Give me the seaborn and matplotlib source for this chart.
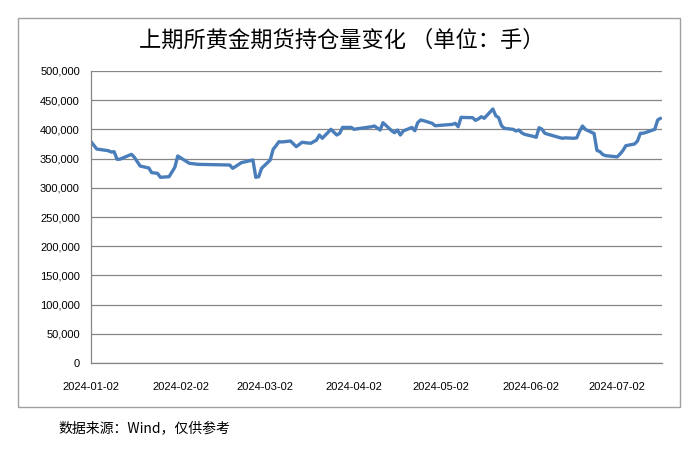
import pandas as pd
import numpy as np
import matplotlib
matplotlib.use("Agg")
import matplotlib.pyplot as plt
import matplotlib.dates as mdates
from matplotlib.patches import Rectangle
from matplotlib.ticker import FuncFormatter, MultipleLocator
import seaborn as sns

# Data (trading days, lots)
dates = [
    "2024-01-02", "2024-01-04", "2024-01-08", "2024-01-09", "2024-01-10", "2024-01-11",
    "2024-01-12", "2024-01-16", "2024-01-17", "2024-01-19", "2024-01-22", "2024-01-23",
    "2024-01-25", "2024-01-26", "2024-01-29", "2024-01-31", "2024-02-01", "2024-02-05",
    "2024-02-08", "2024-02-19", "2024-02-20", "2024-02-23", "2024-02-26", "2024-02-27",
    "2024-02-28", "2024-02-29", "2024-03-01", "2024-03-04", "2024-03-05", "2024-03-06",
    "2024-03-07", "2024-03-08", "2024-03-11", "2024-03-13", "2024-03-15", "2024-03-18",
    "2024-03-20", "2024-03-21", "2024-03-22", "2024-03-25", "2024-03-27", "2024-03-28",
    "2024-03-29", "2024-04-01", "2024-04-02", "2024-04-03", "2024-04-08", "2024-04-09",
    "2024-04-10", "2024-04-11", "2024-04-12", "2024-04-15", "2024-04-16", "2024-04-17",
    "2024-04-18", "2024-04-19", "2024-04-22", "2024-04-23", "2024-04-24", "2024-04-25",
    "2024-04-26", "2024-04-29", "2024-04-30", "2024-05-06", "2024-05-07", "2024-05-08",
    "2024-05-09", "2024-05-10", "2024-05-13", "2024-05-14", "2024-05-15", "2024-05-16",
    "2024-05-17", "2024-05-20", "2024-05-21", "2024-05-22", "2024-05-23", "2024-05-24",
    "2024-05-27", "2024-05-28", "2024-05-29", "2024-05-30", "2024-05-31", "2024-06-03",
    "2024-06-04", "2024-06-05", "2024-06-06", "2024-06-07", "2024-06-11", "2024-06-12",
    "2024-06-13", "2024-06-14", "2024-06-17", "2024-06-18", "2024-06-19", "2024-06-20",
    "2024-06-21", "2024-06-24", "2024-06-25", "2024-06-26", "2024-06-27", "2024-06-28",
    "2024-07-01", "2024-07-02", "2024-07-03", "2024-07-04", "2024-07-05", "2024-07-08",
    "2024-07-09", "2024-07-10", "2024-07-11", "2024-07-12", "2024-07-15", "2024-07-16",
    "2024-07-17",
]
holdings = [
    378900, 366400, 363500, 361300, 361800, 348800,
    349000, 357300, 352200, 337300, 333900, 325900,
    324800, 318000, 319000, 335100, 354500, 342000,
    340200, 339000, 333300, 343000, 346500, 347600,
    318000, 319000, 333300, 347600, 365900, 372000,
    378900, 378500, 380100, 370400, 377900, 376200,
    381800, 390400, 384800, 400100, 390400, 393200,
    403400, 403400, 400100, 401000, 404500, 405800,
    402500, 398900, 411500, 397700, 394300, 398900,
    390400, 397300, 403400, 397700, 411500, 416100,
    415000, 410400, 406300, 408600, 410400, 404600,
    420700, 420400, 420100, 415500, 418000, 421700,
    419000, 434900, 423400, 420100, 406300, 401800,
    400100, 397300, 398900, 394000, 391500, 388000,
    386500, 402900, 400100, 393200, 387500, 386000,
    384800, 385500, 384800, 385500, 397000, 405800,
    400000, 393000, 364000, 362000, 357000, 355000,
    353500, 353000, 357900, 364000, 372100, 375000,
    380000, 393200, 393500, 394900, 400100, 416100,
    419000,
]

df = pd.DataFrame({"date": pd.to_datetime(dates), "holdings": holdings})

sns.set_style("white")
plt.rcParams["font.family"] = ["Liberation Sans", "Noto Sans CJK SC", "DejaVu Sans"]

grey = "#868686"

fig = plt.figure(figsize=(6.92, 4.51), dpi=100)
ax = fig.add_axes([91 / 692, 1 - 363 / 451, (662 - 91) / 692, (363 - 71) / 451])

sns.lineplot(data=df, x="date", y="holdings", ax=ax, color="#4a7ebb", linewidth=2.4)

ax.set_xlim(pd.Timestamp("2024-01-02"), pd.Timestamp("2024-07-17 12:00"))
ax.set_ylim(0, 500000)
ax.yaxis.set_major_locator(MultipleLocator(50000))
ax.yaxis.set_major_formatter(FuncFormatter(lambda v, p: "{:,.0f}".format(v)))
ax.xaxis.set_major_locator(mdates.MonthLocator(bymonthday=2))
ax.xaxis.set_major_formatter(mdates.DateFormatter("%Y-%m-%d"))

ax.grid(axis="y", color=grey, linewidth=0.9)
ax.set_axisbelow(True)
for side in ["top", "right"]:
    ax.spines[side].set_visible(False)
for side in ["left", "bottom"]:
    ax.spines[side].set_color(grey)
    ax.spines[side].set_linewidth(0.9)

ax.tick_params(axis="y", length=4, color=grey, labelsize=8, pad=4, labelcolor="black")
ax.tick_params(axis="x", length=5, color=grey, labelsize=8, pad=9, labelcolor="black")
ax.set_xlabel("")
ax.set_ylabel("")

# chart frame
fig.add_artist(Rectangle((18 / 692, 1 - 407 / 451), (680 - 18) / 692, (407 - 18) / 451,
                         transform=fig.transFigure, fill=False, edgecolor="#a0a0a0", linewidth=1))

fig.text(0.494, 1 - 40 / 451, "上期所黄金期货持仓量变化 （单位：手）", ha="center", va="center",
         fontsize=16, color="black", family=["Noto Sans CJK SC", "DejaVu Sans"])
fig.text(58 / 692, 1 - 428 / 451, "数据来源：Wind，仅供参考", ha="left", va="center",
         fontsize=10, color="black", family=["Noto Sans CJK SC", "DejaVu Sans"])

fig.savefig("out.png", dpi=100)
